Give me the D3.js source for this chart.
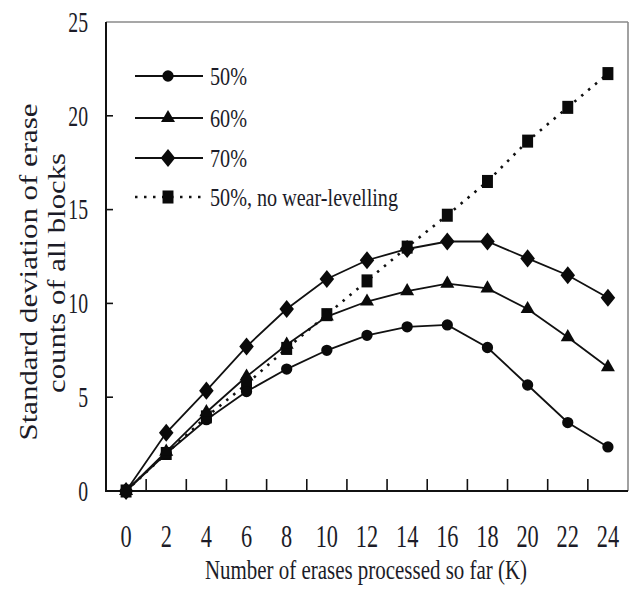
<!DOCTYPE html>
<html>
<head>
<meta charset="utf-8">
<script src="https://cdn.jsdelivr.net/npm/d3@7"></script>
<style>
  body { margin: 0; background: #fff; }
  svg { display: block; font-family: "Liberation Serif", "Times New Roman", serif; }
  text { fill: #1c1c28; }
</style>
</head>
<body>
<div id="chart"></div>
<script>
////////////////////////////////////////////////////////////////////
////////////////////////////  Data  ////////////////////////////////
const erases = [0, 2, 4, 6, 8, 10, 12, 14, 16, 18, 20, 22, 24];
const wl50 = [0, 2.0, 3.8, 5.3, 6.5, 7.5, 8.3, 8.75, 8.85, 7.65, 5.65, 3.65, 2.35];
const wl60 = [0, 2.1, 4.2, 6.1, 7.8, 9.3, 10.1, 10.65, 11.05, 10.8, 9.7, 8.2, 6.6];
const wl70 = [0, 3.1, 5.35, 7.7, 9.7, 11.3, 12.3, 12.9, 13.3, 13.3, 12.4, 11.5, 10.3];
const noWl50 = [0, 2.0, 3.95, 5.7, 7.6, 9.4, 11.2, 13.0, 14.7, 16.5, 18.65, 20.45, 22.25];
const yTicks = [0, 5, 10, 15, 20, 25];

const seriesNames = ["50%", "60%", "70%", "50%, no wear-levelling"];
const seriesValues = [wl50, wl60, wl70, noWl50];

////////////////////////////////////////////////////////////////////
////////////////////////////  Init  ////////////////////////////////
const width = 636;
const height = 592;
const margin = { top: 22, right: 8, bottom: 101, left: 106 };

const svg = d3.select("#chart").append("svg")
  .attr("width", width)
  .attr("height", height);

// scales
const xScale = d3.scaleBand()
  .domain(erases)
  .range([margin.left, width - margin.right])
  .padding(0);
const yScale = d3.scaleLinear()
  .domain([0, 25])
  .range([height - margin.bottom, margin.top]);

const cx = (d) => xScale(d) + xScale.bandwidth() / 2;

// marker shapes
const diamond = {
  draw(ctx, size) {
    const w = Math.sqrt(size) * 0.46, h = Math.sqrt(size) * 0.57;
    ctx.moveTo(0, -h); ctx.lineTo(w, 0); ctx.lineTo(0, h); ctx.lineTo(-w, 0); ctx.closePath();
  }
};
const tallSquare = {
  draw(ctx, size) {
    const w = Math.sqrt(size) * 0.42, h = Math.sqrt(size) * 0.5;
    ctx.rect(-w, -h, 2 * w, 2 * h);
  }
};
const symbols = [
  d3.symbol().type(d3.symbolCircle).size(100),
  d3.symbol().type(d3.symbolTriangle).size(85),
  d3.symbol().type(diamond).size(250),
  d3.symbol().type(tallSquare).size(170)
];
const dashes = [null, null, null, "2.5,6.5"];

////////////////////////////////////////////////////////////////////
////////////////////////////  Frame  ///////////////////////////////
const x0 = margin.left, x1 = width - margin.right;
const y0 = height - margin.bottom, y1 = margin.top;

svg.append("line").attr("x1", x0).attr("x2", x1).attr("y1", y1).attr("y2", y1)
  .attr("stroke", "#8a8a8a").attr("stroke-width", 1.6);
svg.append("line").attr("x1", x1).attr("x2", x1).attr("y1", y1).attr("y2", y0)
  .attr("stroke", "#8a8a8a").attr("stroke-width", 1.6);

// inner ticks x (between categories)
svg.append("g").selectAll("line")
  .data(erases.slice(1))
  .join("line")
  .attr("x1", (d) => xScale(d)).attr("x2", (d) => xScale(d))
  .attr("y1", y0).attr("y2", y0 - 12)
  .attr("stroke", "#111").attr("stroke-width", 1.6);

// inner ticks y
svg.append("g").selectAll("line")
  .data(yTicks.slice(1, -1))
  .join("line")
  .attr("x1", x0).attr("x2", x0 + 7)
  .attr("y1", (d) => yScale(d)).attr("y2", (d) => yScale(d))
  .attr("stroke", "#111").attr("stroke-width", 1.6);

svg.append("line").attr("x1", x0).attr("x2", x0).attr("y1", y1).attr("y2", y0 + 1)
  .attr("stroke", "#111").attr("stroke-width", 2);
svg.append("line").attr("x1", x0 - 1).attr("x2", x1).attr("y1", y0).attr("y2", y0)
  .attr("stroke", "#111").attr("stroke-width", 2);

// tick labels
svg.append("g").selectAll("text")
  .data(erases)
  .join("text")
  .attr("transform", (d) => `translate(${cx(d)},${y0 + 56}) scale(0.72,1)`)
  .attr("text-anchor", "middle")
  .attr("font-size", 31)
  .text((d) => d);

svg.append("g").selectAll("text")
  .data(yTicks)
  .join("text")
  .attr("transform", (d) => `translate(${x0 - 18},${yScale(d)}) scale(0.68,1)`)
  .attr("text-anchor", "end")
  .attr("dy", "0.34em")
  .attr("font-size", 29)
  .text((d) => d);

// axis titles
svg.append("text")
  .attr("x", 366).attr("y", 579)
  .attr("text-anchor", "middle")
  .attr("font-size", 28)
  .attr("textLength", 322).attr("lengthAdjust", "spacingAndGlyphs")
  .text("Number of erases processed so far (K)");

svg.append("text")
  .attr("transform", "translate(37,272) rotate(-90)")
  .attr("text-anchor", "middle")
  .attr("font-size", 25)
  .attr("textLength", 337).attr("lengthAdjust", "spacingAndGlyphs")
  .text("Standard deviation of erase");
svg.append("text")
  .attr("transform", "translate(65,273) rotate(-90)")
  .attr("text-anchor", "middle")
  .attr("font-size", 25)
  .attr("textLength", 240).attr("lengthAdjust", "spacingAndGlyphs")
  .text("counts of all blocks");

////////////////////////////////////////////////////////////////////
////////////////////////////  Series  //////////////////////////////
const line = d3.line()
  .x((d, i) => cx(erases[i]))
  .y((d) => yScale(d));

// dotted series first, then solid ones, markers on top
const order = [3, 0, 1, 2];
order.forEach((s) => {
  svg.append("path")
    .datum(seriesValues[s])
    .attr("d", line)
    .attr("fill", "none")
    .attr("stroke", "#111")
    .attr("stroke-width", s === 3 ? 2.6 : 1.8)
    .attr("stroke-dasharray", dashes[s]);
});
order.forEach((s) => {
  svg.append("g").selectAll("path")
    .data(seriesValues[s])
    .join("path")
    .attr("transform", (d, i) => `translate(${cx(erases[i])},${yScale(d)})`)
    .attr("d", symbols[s])
    .attr("fill", "#0a0a0a");
});

////////////////////////////////////////////////////////////////////
////////////////////////////  Legend  //////////////////////////////
const legendY = [76, 118, 158, 197];
const legendW = [37, 37, 37, 188];
const legend = svg.append("g");
seriesNames.forEach((name, s) => {
  const g = legend.append("g").attr("transform", `translate(0,${legendY[s]})`);
  g.append("line")
    .attr("x1", 135).attr("x2", 203)
    .attr("stroke", "#111")
    .attr("stroke-width", s === 3 ? 2.6 : 1.8)
    .attr("stroke-dasharray", dashes[s]);
  g.append("path")
    .attr("transform", "translate(168,0)")
    .attr("d", symbols[s])
    .attr("fill", "#0a0a0a");
  g.append("text")
    .attr("x", 210).attr("dy", "0.34em")
    .attr("font-size", 25)
    .attr("textLength", legendW[s]).attr("lengthAdjust", "spacingAndGlyphs")
    .text(name);
});
</script>
</body>
</html>
